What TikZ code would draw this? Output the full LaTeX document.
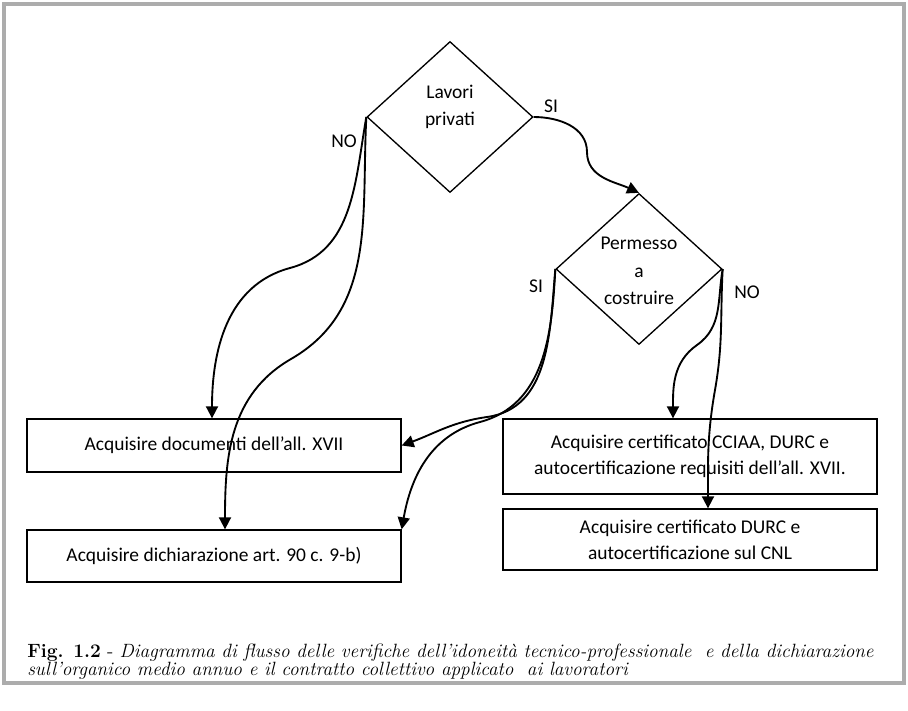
\documentclass[tikz,border=0pt]{standalone}
\usepackage{fontspec}
\usetikzlibrary{shapes.geometric,arrows.meta,calc}
\newfontfamily\calib{Carlito}
\definecolor{framegray}{RGB}{172,172,172}
\begin{document}
\begin{tikzpicture}[x=0.75pt,y=0.75pt,
  boxnode/.style={draw,line width=1pt,minimum width=280.5pt,inner sep=0pt,
    font=\calib\fontsize{14.6}{19.5}\selectfont,align=center},
  decision/.style={draw,diamond,line width=1pt,minimum width=124.5pt,minimum height=113.25pt,inner sep=0pt},
  dtext/.style={font=\calib\fontsize{14.6}{20.5}\selectfont,align=center,inner sep=0pt},
  lbl/.style={font=\calib\fontsize{14.6}{19.5}\selectfont,inner sep=0pt},
  conn/.style={line width=1.4pt,-{Triangle[length=9pt,width=9pt]}},
  captext/.style={anchor=base west,inner sep=0pt,font=\fontsize{14.4}{15}\selectfont}
]
\useasboundingbox (0,0) rectangle (908,-711);
\draw[line width=2.3pt,framegray] (4,-4) rectangle (904,-683);

% decisions
\node[decision] (d1) at (450,-117) {};
\node[dtext] (t1) at (450,-107) {Lavori\\privati};
\node[decision] (d2) at (639,-269) {};
\node[dtext] (t2) at (639,-271) {Permesso\\a\\costruire};

% boxes
\node[boxnode,minimum height=39.75pt] (b1) at (214,-445.5) {Acquisire documenti dell’all. XVII};
\node[boxnode,minimum height=39pt] (b2) at (214,-556) {Acquisire dichiarazione art. 90 c. 9-b)};
\node[boxnode,minimum height=56.25pt] (b3) at (690,-456.5) {Acquisire certificato CCIAA, DURC e\\autocertificazione requisiti dell’all. XVII.};
\node[boxnode,minimum height=45.75pt] (b4) at (690,-539.5) {Acquisire certificato DURC e\\autocertificazione sul CNL};

% labels
\node[lbl] (l1) at (551,-106) {SI};
\node[lbl] (l2) at (344,-141) {NO};
\node[lbl] (l3) at (536,-286) {SI};
\node[lbl] (l4) at (747,-292) {NO};

% waypoints
\coordinate (s1) at (587,-152);
\coordinate (n1) at (290,-268);
\coordinate (n2) at (291,-359);
\coordinate (m1) at (487,-417);
\coordinate (m2) at (480,-422);
\coordinate (p1) at (697,-345);
\coordinate (p2) at (715,-390);

% connectors
\draw[conn] (d1.east) to[out=0,in=90] (s1) to[out=-90,in=155] (d2.north);
\draw[conn] (d1.west) to[out=-100,in=15] (n1) to[out=195,in=90] ($(b1.north)+(-2,0)$);
\draw[conn] (d1.west) to[out=-93,in=30] (n2) to[out=210,in=90] ($(b2.north)+(11,0)$);
\draw[conn] (d2.west) to[out=-95,in=8] (m1) to[out=188,in=20] (b1.east);
\draw[conn] (d2.west) to[out=-93,in=15] (m2) to[out=195,in=80] (b2.north east);
\draw[conn] (d2.east) to[out=-100,in=35] (p1) to[out=215,in=90] ($(b3.north)+(-17,0)$);
\draw[conn] (d2.east) to[out=-93,in=80] (p2) to[out=-100,in=90] ($(b4.north)+(18,0)$);

% caption
\node[captext] (cap1) at (27,-657) {\textbf{Fig. 1.2} - \textit{Diagramma di flusso delle verifiche dell’idoneità tecnico-professionale\ \ e della dichiarazione}};
\node[captext] (cap2) at (27,-675) {\textit{sull’organico medio annuo e il contratto collettivo applicato\ \ ai lavoratori}};
\end{tikzpicture}
\end{document}
